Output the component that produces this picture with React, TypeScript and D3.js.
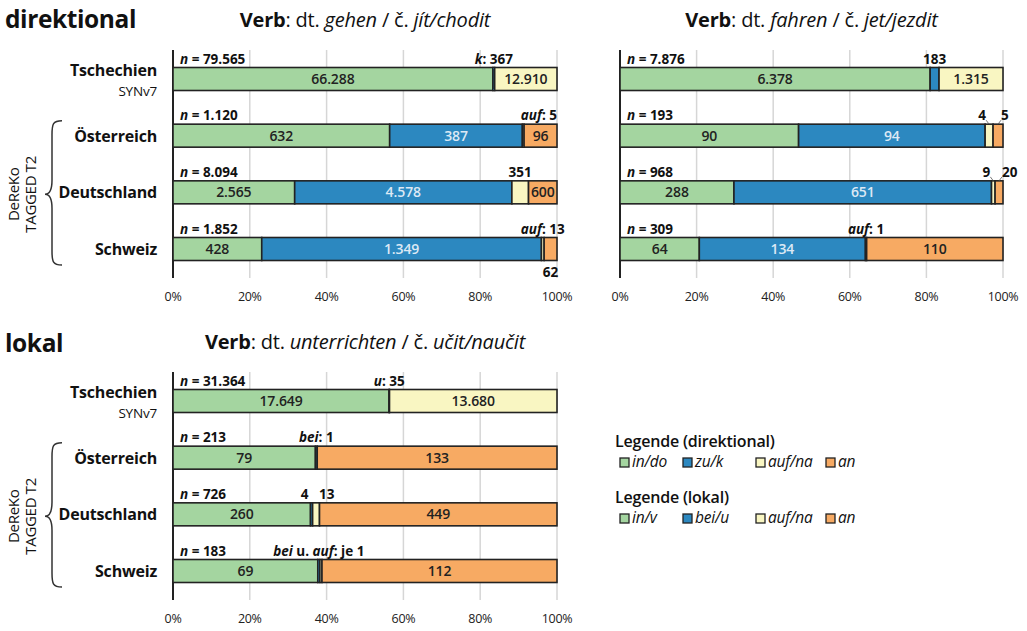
import { useEffect, useRef } from 'react';
import * as d3 from 'd3';

// Rows and series
const categories = ['Tschechien', 'Österreich', 'Deutschland', 'Schweiz'];
const dirKeys = ['in/do', 'zu/k', 'auf/na', 'an'];
const lokKeys = ['in/v', 'bei/u', 'auf/na', 'an'];

// Counts per row: [in, zu/bei, auf, an]
const gehen = [
  [66288, 367, 12910, 0],
  [632, 387, 5, 96],
  [2565, 4578, 351, 600],
  [428, 1349, 13, 62],
];
const fahren = [
  [6378, 183, 1315, 0],
  [90, 94, 4, 5],
  [288, 651, 9, 20],
  [64, 134, 1, 110],
];
const unterrichten = [
  [17649, 35, 13680, 0],
  [79, 1, 0, 133],
  [260, 4, 13, 449],
  [69, 1, 1, 112],
];

const tickValues = [0, 0.2, 0.4, 0.6, 0.8, 1];

type Part = [string, boolean?];
interface Note {
  row: number;
  seg: number;
  parts: Part[];
  side?: 'left' | 'right' | 'end';
  below?: boolean;
}

// small-segment annotations
const gehenNotes: Note[] = [
  { row: 0, seg: 1, parts: [['k', true], [': 367']] },
  { row: 1, seg: 2, parts: [['auf', true], [': 5']], side: 'end' },
  { row: 2, seg: 2, parts: [['351']] },
  { row: 3, seg: 2, parts: [['auf', true], [': 13']] },
  { row: 3, seg: 3, parts: [['62']], below: true },
];
const fahrenNotes: Note[] = [
  { row: 0, seg: 1, parts: [['183']] },
  { row: 1, seg: 2, parts: [['4']], side: 'left' },
  { row: 1, seg: 3, parts: [['5']], side: 'right' },
  { row: 2, seg: 2, parts: [['9']], side: 'left' },
  { row: 2, seg: 3, parts: [['20']], side: 'right' },
  { row: 3, seg: 2, parts: [['auf', true], [': 1']] },
];
const unterrichtenNotes: Note[] = [
  { row: 0, seg: 1, parts: [['u', true], [': 35']] },
  { row: 1, seg: 1, parts: [['bei', true], [': 1']] },
  { row: 2, seg: 1, parts: [['4']], side: 'left' },
  { row: 2, seg: 2, parts: [['13']], side: 'right' },
  { row: 3, seg: 1, parts: [['bei', true], [' u. '], ['auf', true], [': je 1']] },
];

const colors = ['#a4d5a0', '#2c88c0', '#f9f6c2', '#f7aa63'];
const FONT = '"Open Sans", "Noto Sans", sans-serif';

const fmt = d3
  .formatLocale({ decimal: ',', thousands: '.', grouping: [3], currency: ['', ''] })
  .format(',d');

export default function App() {
  const svgRef = useRef<SVGSVGElement>(null);

  useEffect(() => {
    if (!svgRef.current) return;
    const svg = d3.select(svgRef.current);
    svg.selectAll('*').remove();
    svg.style('font-family', FONT);

    const addParts = (
      sel: d3.Selection<SVGTextElement, unknown, null, undefined>,
      parts: Part[],
    ) => {
      parts.forEach(([t, it]) => {
        sel.append('tspan').attr('font-style', it ? 'italic' : 'normal').text(t);
      });
    };

    const panels = [
      { values: gehen, notes: gehenNotes, x0: 173, x1: 557, y0: 79, y1: 249, title: ['gehen', 'jít/chodit'], labels: true },
      { values: fahren, notes: fahrenNotes, x0: 620, x1: 1003, y0: 79, y1: 249, title: ['fahren', 'jet/jezdit'], labels: false },
      { values: unterrichten, notes: unterrichtenNotes, x0: 173, x1: 557, y0: 401, y1: 571, title: ['unterrichten', 'učit/naučit'], labels: true },
    ];

    const barH = 23;

    panels.forEach((p) => {
      const x = d3.scaleLinear().domain([0, 1]).range([p.x0, p.x1]);
      const y = d3.scalePoint<string>().domain(categories).range([p.y0, p.y1]);
      const top = p.y0 - 29;
      const bottom = p.y1 + 29;
      const g = svg.append('g');

      // title
      const t = g
        .append('text')
        .attr('x', (p.x0 + p.x1) / 2)
        .attr('y', p.y0 - 52)
        .attr('text-anchor', 'middle')
        .attr('font-size', 20)
        .attr('letter-spacing', -0.2)
        .attr('fill', '#111');
      t.append('tspan').attr('font-weight', 700).text('Verb');
      t.append('tspan').text(': dt. ');
      t.append('tspan').attr('font-style', 'italic').text(p.title[0]);
      t.append('tspan').text(' / č. ');
      t.append('tspan').attr('font-style', 'italic').text(p.title[1]);

      // grid
      g.selectAll('.grid')
        .data(tickValues.slice(1))
        .join('line')
        .attr('x1', (d) => x(d))
        .attr('x2', (d) => x(d))
        .attr('y1', top)
        .attr('y2', bottom)
        .attr('stroke', '#d6d6d6')
        .attr('stroke-width', 1.5);

      g.append('line')
        .attr('x1', x(0))
        .attr('x2', x(0))
        .attr('y1', top)
        .attr('y2', bottom)
        .attr('stroke', '#222')
        .attr('stroke-width', 2);

      g.selectAll('.tick')
        .data(tickValues)
        .join('text')
        .attr('x', (d) => x(d))
        .attr('y', bottom + 23)
        .attr('text-anchor', 'middle')
        .attr('font-size', 12.5)
        .attr('letter-spacing', -0.3)
        .attr('fill', '#222')
        .text((d) => `${Math.round(d * 100)}%`);

      p.values.forEach((row, ri) => {
        const n = d3.sum(row);
        const cy = y(categories[ri])!;
        const by = cy - barH / 2;
        let acc = 0;
        const segs = row.map((v, si) => {
          const s = { start: acc / n, end: (acc + v) / n, v, si };
          acc += v;
          return s;
        });

        segs.forEach((s) => {
          if (s.v === 0) return;
          g.append('rect')
            .attr('x', x(s.start))
            .attr('y', by)
            .attr('width', x(s.end) - x(s.start))
            .attr('height', barH)
            .attr('fill', colors[s.si])
            .attr('stroke', '#222')
            .attr('stroke-width', 1.6);
          const w = x(s.end) - x(s.start);
          if (w > 22) {
            g.append('text')
              .attr('x', (x(s.start) + x(s.end)) / 2)
              .attr('y', cy + 5)
              .attr('text-anchor', 'middle')
              .attr('font-size', 14)
              .attr('font-weight', 600)
              .attr('letter-spacing', -0.1)
              .attr('fill', s.si === 1 ? '#dce9f5' : '#222')
              .text(fmt(s.v));
          }
        });

        // n label
        const nt = g
          .append('text')
          .attr('x', x(0) + 7)
          .attr('y', by - 4)
          .attr('font-size', 13.5)
          .attr('font-weight', 700)
          .attr('fill', '#111');
        addParts(nt, [['n', true], [` = ${fmt(n)}`]]);

        // annotations
        p.notes
          .filter((nn) => nn.row === ri)
          .forEach((nn) => {
            const s = segs[nn.seg];
            const cx = (x(s.start) + x(s.end)) / 2;
            let tx = cx;
            let anchor = 'middle';
            if (nn.side === 'end') {
              tx = x(1);
              anchor = 'end';
            } else if (nn.side === 'left') {
              tx = cx - 3;
              anchor = 'end';
            } else if (nn.side === 'right') {
              tx = cx + 3;
              anchor = 'start';
            }
            const ty = nn.below ? by + barH + 16 : by - 4;
            const at = g
              .append('text')
              .attr('x', tx)
              .attr('y', ty)
              .attr('text-anchor', anchor)
              .attr('font-size', 13.5)
              .attr('font-weight', 700)
              .attr('fill', '#111');
            addParts(at, nn.parts);
            if (p.values !== unterrichten && (nn.side === 'left' || nn.side === 'right')) {
              g.append('line')
                .attr('x1', cx)
                .attr('y1', by)
                .attr('x2', nn.side === 'left' ? cx - 3 : cx + 3)
                .attr('y2', by - 4)
                .attr('stroke', '#555')
                .attr('stroke-width', 0.8);
            }
          });
      });

      // row labels
      if (p.labels) {
        categories.forEach((c, ri) => {
          const cy = y(c)!;
          if (ri === 0) {
            g.append('text')
              .attr('x', 157)
              .attr('y', cy - 3)
              .attr('text-anchor', 'end')
              .attr('font-size', 16)
              .attr('font-weight', 700)
              .attr('letter-spacing', -0.2)
              .attr('fill', '#111')
              .text(c);
            g.append('text')
              .attr('x', 157)
              .attr('y', cy + 17)
              .attr('text-anchor', 'end')
              .attr('font-size', 13.5)
              .attr('letter-spacing', -0.2)
              .attr('fill', '#111')
              .text('SYNv7');
          } else {
            g.append('text')
              .attr('x', 157)
              .attr('y', cy + 6)
              .attr('text-anchor', 'end')
              .attr('font-size', 16)
              .attr('font-weight', 700)
              .attr('letter-spacing', -0.2)
              .attr('fill', '#111')
              .text(c);
          }
        });

        // brace
        const b0 = y(categories[1])! - 15;
        const b1 = y(categories[3])! + 16;
        const bm = y(categories[2])! + 2;
        const bx = 62;
        const bracePath = `M${bx},${b0} C${bx - 9},${b0} ${bx - 10},${b0 + 3} ${bx - 10},${b0 + 14}
          L${bx - 10},${bm - 14} C${bx - 10},${bm - 4} ${bx - 12},${bm} ${bx - 17},${bm}
          C${bx - 12},${bm} ${bx - 10},${bm + 4} ${bx - 10},${bm + 14}
          L${bx - 10},${b1 - 14} C${bx - 10},${b1 - 3} ${bx - 9},${b1} ${bx},${b1}`;
        g.append('path')
          .attr('d', bracePath)
          .attr('fill', 'none')
          .attr('stroke', '#333')
          .attr('stroke-width', 1.5);

        const rt = g
          .append('text')
          .attr('transform', `translate(19,${bm}) rotate(-90)`)
          .attr('text-anchor', 'middle')
          .attr('font-size', 15)
          .attr('letter-spacing', -0.3)
          .attr('fill', '#111');
        rt.append('tspan').attr('x', 0).attr('dy', 0).text('DeReKo');
        rt.append('tspan').attr('x', 0).attr('dy', 17).text('TAGGED T2');
      }
    });

    // section headings
    svg.append('text').attr('x', 5).attr('y', 28).attr('font-size', 24.5).attr('font-weight', 700).attr('letter-spacing', -0.4).attr('fill', '#111').text('direktional');
    svg.append('text').attr('x', 5).attr('y', 352).attr('font-size', 24.5).attr('font-weight', 700).attr('letter-spacing', -0.4).attr('fill', '#111').text('lokal');

    // legends
    const legends = [
      { title: 'Legende (direktional)', keys: dirKeys, y: 447 },
      { title: 'Legende (lokal)', keys: lokKeys, y: 503 },
    ];
    const itemX = [620, 683, 756, 826];
    legends.forEach((lg) => {
      svg.append('text')
        .attr('x', 615)
        .attr('y', lg.y)
        .attr('font-size', 16)
        .attr('font-weight', 600)
        .attr('letter-spacing', -0.2)
        .attr('fill', '#111')
        .text(lg.title);
      lg.keys.forEach((k, i) => {
        svg.append('rect')
          .attr('x', itemX[i])
          .attr('y', lg.y + 11)
          .attr('width', 9)
          .attr('height', 9)
          .attr('fill', colors[i])
          .attr('stroke', '#222')
          .attr('stroke-width', 1.3);
        svg.append('text')
          .attr('x', itemX[i] + 12)
          .attr('y', lg.y + 20)
          .attr('font-size', 15.5)
          .attr('font-style', 'italic')
          .attr('letter-spacing', -0.2)
          .attr('fill', '#111')
          .text(k);
      });
    });
  }, []);

  return (
    <svg
      ref={svgRef}
      width={1027}
      height={631}
      style={{ position: 'absolute', left: 0, top: 0, background: '#fff' }}
    />
  );
}
